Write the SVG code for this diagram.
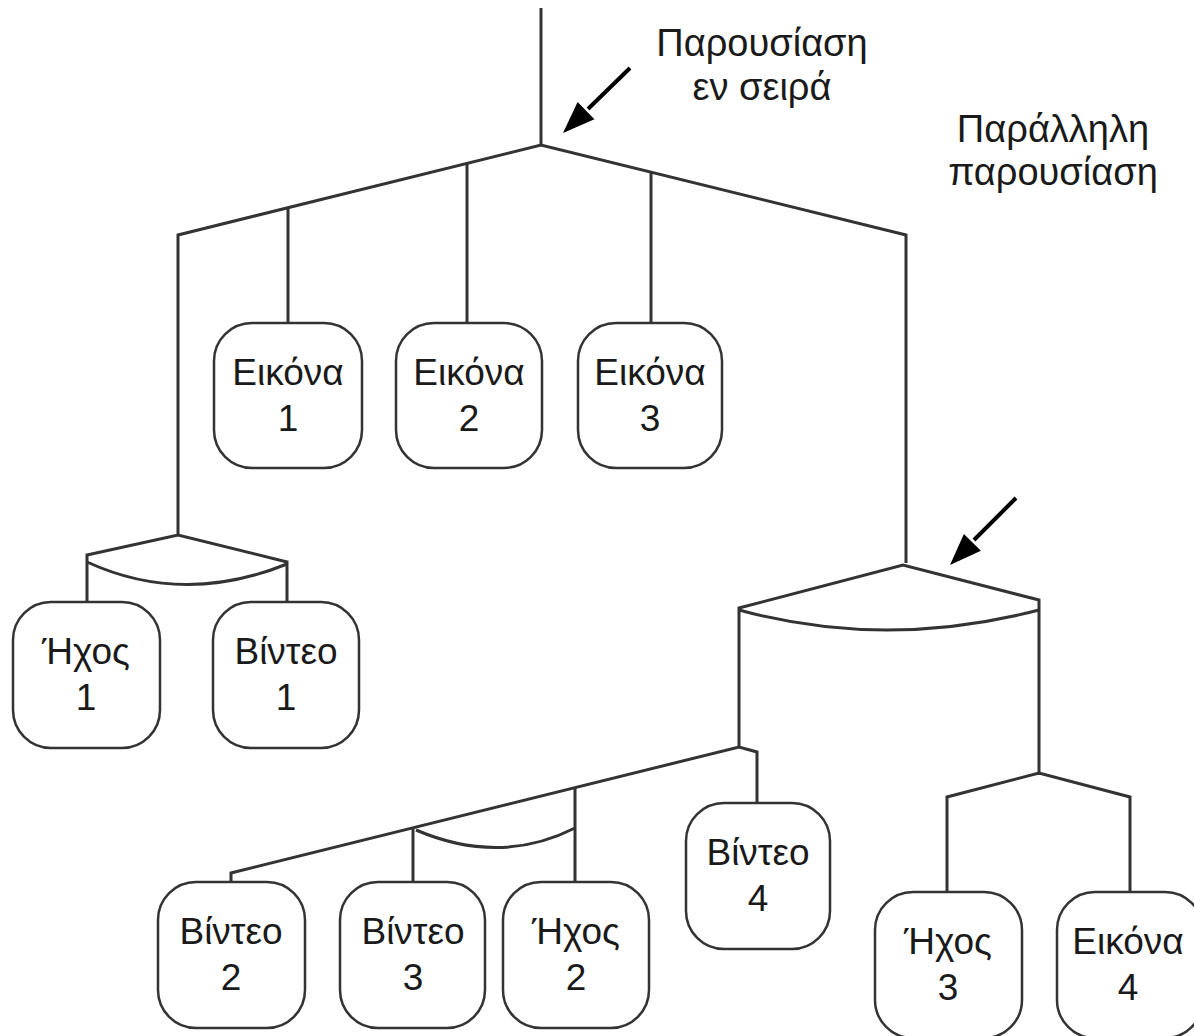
<svg xmlns="http://www.w3.org/2000/svg" width="1194" height="1036" viewBox="0 0 1194 1036">
<defs>
<style>
.ln{fill:none;stroke:#333;stroke-width:3;stroke-linejoin:miter}
.bx{fill:#fff;stroke:#333;stroke-width:2.5}
.t{font-family:"Liberation Sans",Arial,sans-serif;font-size:37px;fill:#1a1a1a;text-anchor:middle}
.a{font-size:38px}
.ar{stroke:#000;stroke-width:4;fill:none}
.ah{fill:#000;stroke:none}
</style>
</defs>
<rect width="1194" height="1036" fill="#fff"/>
<g id="connectors">
<path class="ln" d="M541,8 L541,145"/>
<path class="ln" d="M178,535 L178,235 L541,145 L906,235 L906,563"/>
<path class="ln" d="M288,208 L288,323"/>
<path class="ln" d="M467,163 L467,323"/>
<path class="ln" d="M651,172 L651,323"/>
<path class="ln" d="M87,602 L87,555 L178,535 L287,562 L287,602"/>
<path class="ln" d="M87,562 Q183,606 287,564"/>
<path class="ln" d="M739,747 L739,608 L903,565 L1039,600 L1039,775"/>
<path class="ln" d="M739,610 Q885,650 1039,610"/>
<path class="ln" d="M231,882 L231,873 L739,747 L757,752 L757,803"/>
<path class="ln" d="M413,828 L413,882"/>
<path class="ln" d="M575,788 L575,882"/>
<path class="ln" d="M416,830 Q500,866 575,828"/>
<path class="ln" d="M947,892 L947,797 L1039,773 L1130,797 L1130,892"/>
<path class="ar" d="M630,68 L588,109"/>
<polygon class="ah" points="563,133 594.4,119.2 577.6,102"/>
<path class="ar" d="M1016,498 L974,540"/>
<polygon class="ah" points="950,565 980.9,550.7 963.9,533.9"/>
</g>
<g id="label-seq">
<text class="t a" x="762" y="56">Παρουσίαση</text>
<text class="t a" x="762" y="100">εν σειρά</text>
</g>
<g id="label-par">
<text class="t a" x="1053" y="142">Παράλληλη</text>
<text class="t a" x="1053" y="185">παρουσίαση</text>
</g>
<g id="n-eikona1"><rect class="bx" x="214" y="323" width="148" height="145" rx="38"/><text class="t" x="288" y="385">Εικόνα</text><text class="t" x="288" y="431">1</text></g>
<g id="n-eikona2"><rect class="bx" x="396" y="323" width="146" height="145" rx="38"/><text class="t" x="469" y="385">Εικόνα</text><text class="t" x="469" y="431">2</text></g>
<g id="n-eikona3"><rect class="bx" x="578" y="323" width="144" height="145" rx="38"/><text class="t" x="650" y="385">Εικόνα</text><text class="t" x="650" y="431">3</text></g>
<g id="n-ixos1"><rect class="bx" x="13" y="602" width="147" height="146" rx="38"/><text class="t" x="86" y="664">Ήχος</text><text class="t" x="86" y="710">1</text></g>
<g id="n-vinteo1"><rect class="bx" x="213" y="602" width="146" height="146" rx="38"/><text class="t" x="286" y="664">Βίντεο</text><text class="t" x="286" y="710">1</text></g>
<g id="n-vinteo2"><rect class="bx" x="158" y="882" width="147" height="146" rx="38"/><text class="t" x="231" y="944">Βίντεο</text><text class="t" x="231" y="990">2</text></g>
<g id="n-vinteo3"><rect class="bx" x="340" y="882" width="145" height="146" rx="38"/><text class="t" x="413" y="944">Βίντεο</text><text class="t" x="413" y="990">3</text></g>
<g id="n-ixos2"><rect class="bx" x="503" y="882" width="146" height="146" rx="38"/><text class="t" x="576" y="944">Ήχος</text><text class="t" x="576" y="990">2</text></g>
<g id="n-vinteo4"><rect class="bx" x="686" y="803" width="144" height="146" rx="38"/><text class="t" x="758" y="865">Βίντεο</text><text class="t" x="758" y="911">4</text></g>
<g id="n-ixos3"><rect class="bx" x="875" y="892" width="147" height="146" rx="38"/><text class="t" x="948" y="954">Ήχος</text><text class="t" x="948" y="1000">3</text></g>
<g id="n-eikona4"><rect class="bx" x="1057" y="892" width="146" height="146" rx="38"/><text class="t" x="1128" y="954">Εικόνα</text><text class="t" x="1128" y="1000">4</text></g>
</svg>
